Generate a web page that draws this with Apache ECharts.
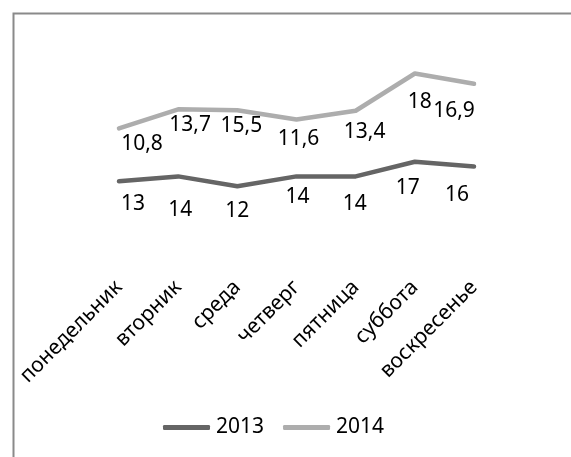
<!DOCTYPE html>
<html>
<head>
<meta charset="utf-8">
<script src="https://cdn.jsdelivr.net/npm/echarts@6/dist/echarts.min.js"></script>
<style>
  html, body { margin: 0; padding: 0; background: #fff; }
  #chart { width: 571px; height: 457px; }
</style>
</head>
<body>
<div id="chart"></div>
<script>
// Days of the week and the two yearly series (2014 is stacked on top of 2013)
const days = ['понедельник', 'вторник', 'среда', 'четверг', 'пятница', 'суббота', 'воскресенье'];
const values2013 = [13, 14, 12, 14, 14, 17, 16];
const values2014 = [10.8, 13.7, 15.5, 11.6, 13.4, 18, 16.9];
const seriesNames = ['2013', '2014'];

// Hand-placed data label offsets (px, relative to each point)
const shift2013 = [[14, 23], [2, 34], [0, 25], [1, 21], [-1, 28], [-7, 26], [-17, 28]];
const shift2014 = [[23, 16], [12, 16], [4, 16], [2, 19], [9, 21], [5, 29], [-20, 27]];

const FONT = '"Noto Sans", "Open Sans", sans-serif';
const COLORS = ['#656565', '#adadad'];

function withLabels(vals, shifts) {
  return vals.map((v, i) => ({ value: v, label: { offset: shifts[i] } }));
}
function fmt(p) { return String(p.value).replace('.', ','); }

function lineSeries(name, vals, shifts, color) {
  return {
    name: name,
    type: 'line',
    stack: 'total',
    data: withLabels(vals, shifts),
    showSymbol: true,
    symbol: 'circle',
    symbolSize: 1,
    itemStyle: { color: color },
    lineStyle: { color: color, width: 4.5, cap: 'round', join: 'round' },
    label: {
      show: true,
      position: 'inside',
      formatter: fmt,
      fontSize: 21,
      fontFamily: FONT,
      color: '#000'
    },
    emphasis: { disabled: true }
  };
}

const chart = echarts.init(document.getElementById('chart'), null, { renderer: 'canvas' });
chart.setOption({
  animation: false,
  backgroundColor: '#fff',
  graphic: [{
    type: 'rect',
    silent: true,
    shape: { x: 13.5, y: 13.5, width: 800, height: 800 },
    style: { fill: 'none', stroke: '#8a8a8a', lineWidth: 2 }
  }],
  grid: { left: 89.4, right: 67.4, top: 49, bottom: 212 },
  xAxis: {
    type: 'category',
    data: days,
    boundaryGap: true,
    axisLine: { show: false },
    axisTick: { show: false },
    axisLabel: {
      rotate: 45,
      interval: 0,
      margin: 39,
      fontSize: 21,
      fontFamily: FONT,
      color: '#000'
    }
  },
  yAxis: { type: 'value', min: 0, max: 40, show: false, splitLine: { show: false } },
  legend: {
    data: seriesNames,
    left: 158,
    top: 412,
    icon: 'roundRect',
    itemWidth: 47,
    itemHeight: 5,
    itemGap: 19,
    textStyle: { fontSize: 21, fontFamily: FONT, color: '#000', padding: [0, 0, 0, 1] }
  },
  series: [
    lineSeries(seriesNames[0], values2013, shift2013, COLORS[0]),
    lineSeries(seriesNames[1], values2014, shift2014, COLORS[1])
  ]
});
</script>
</body>
</html>
